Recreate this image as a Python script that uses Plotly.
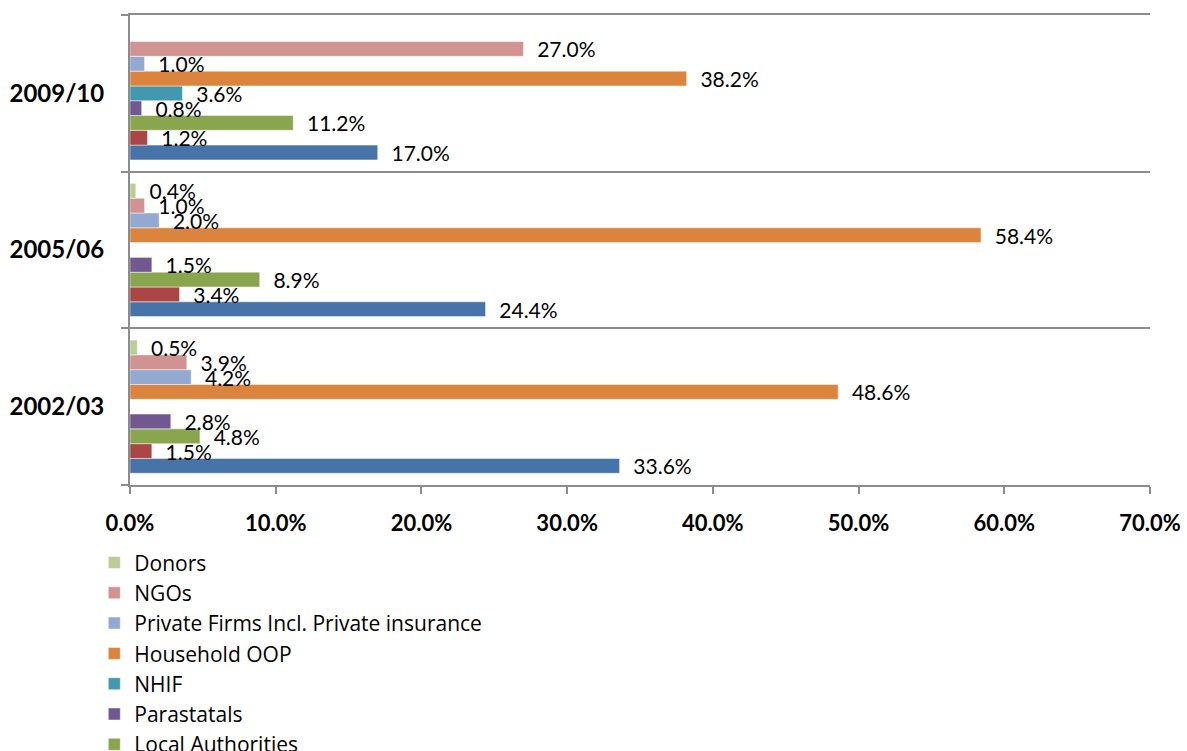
import plotly.graph_objects as go

# Financing agents' share of total health expenditure, by year
years = ["2002/03", "2005/06", "2009/10"]

series_names = [
    "MOH",
    "Other Ministries",
    "Local Authorities",
    "Parastatals",
    "NHIF",
    "Household OOP",
    "Private Firms Incl. Private insurance",
    "NGOs",
    "Donors",
]

moh = [33.6, 24.4, 17.0]
other_ministries = [1.5, 3.4, 1.2]
local_authorities = [4.8, 8.9, 11.2]
parastatals = [2.8, 1.5, 0.8]
nhif = [None, None, 3.6]
household_oop = [48.6, 58.4, 38.2]
private_firms = [4.2, 2.0, 1.0]
ngos = [3.9, 1.0, 27.0]
donors = [0.5, 0.4, None]

series_values = [moh, other_ministries, local_authorities, parastatals, nhif,
                 household_oop, private_firms, ngos, donors]

colors = ["#4674A8", "#AA4644", "#89A54E", "#71588F", "#4198AF",
          "#DB843D", "#93A9CF", "#D09392", "#B9CD96"]

x_ticks = [0, 10, 20, 30, 40, 50, 60, 70]
x_tick_labels = ["0.0%", "10.0%", "20.0%", "30.0%", "40.0%", "50.0%", "60.0%", "70.0%"]

FONT = "Lato, 'Open Sans', sans-serif"
LEGEND_FONT = "'Open Sans', Lato, sans-serif"
GRID = "#8c8c8c"

fig = go.Figure()
for name, vals, col in zip(series_names, series_values, colors):
    fig.add_trace(go.Bar(
        y=years,
        x=vals,
        name=name,
        orientation="h",
        marker=dict(color=col, line=dict(color="rgba(255,255,255,0.6)", width=0.8)),
        texttemplate="\u00a0\u00a0%{x:.1f}%",
        textposition="outside",
        textfont=dict(family=FONT, size=21, color="#000000"),
        constraintext="none",
        cliponaxis=False,
    ))

fig.update_layout(
    width=1187,
    height=751,
    barmode="group",
    bargap=0.15,
    bargroupgap=0,
    plot_bgcolor="white",
    paper_bgcolor="white",
    font=dict(family=FONT, color="#000000"),
    margin=dict(l=130, r=37, t=15, b=266, autoexpand=False),
    legend=dict(
        traceorder="reversed",
        x=-0.035,
        xanchor="left",
        y=-0.122,
        yanchor="top",
        font=dict(family=LEGEND_FONT, size=21, color="#000000"),
        itemwidth=30,
        bgcolor="rgba(0,0,0,0)",
        tracegroupgap=0,
    ),
    xaxis=dict(
        range=[0, 70],
        tickvals=x_ticks,
        ticktext=x_tick_labels,
        showgrid=False,
        zeroline=False,
        showline=True,
        mirror=True,
        linecolor=GRID,
        linewidth=2,
        ticks="outside",
        ticklen=7,
        tickwidth=2,
        tickcolor=GRID,
        tickfont=dict(family=FONT, size=22, color="#000000", weight="bold"),
        ticklabelstandoff=11,
    ),
    yaxis=dict(
        type="category",
        categoryorder="array",
        categoryarray=years,
        range=[-0.5, 2.5],
        tickson="boundaries",
        showgrid=True,
        gridcolor=GRID,
        gridwidth=2,
        showline=True,
        linecolor=GRID,
        linewidth=2,
        ticks="outside",
        ticklen=7,
        tickwidth=2,
        tickcolor=GRID,
        tickfont=dict(family=FONT, size=24, color="#000000", weight="bold"),
        ticklabelstandoff=19,
    ),
)

fig.write_html("out.html")
